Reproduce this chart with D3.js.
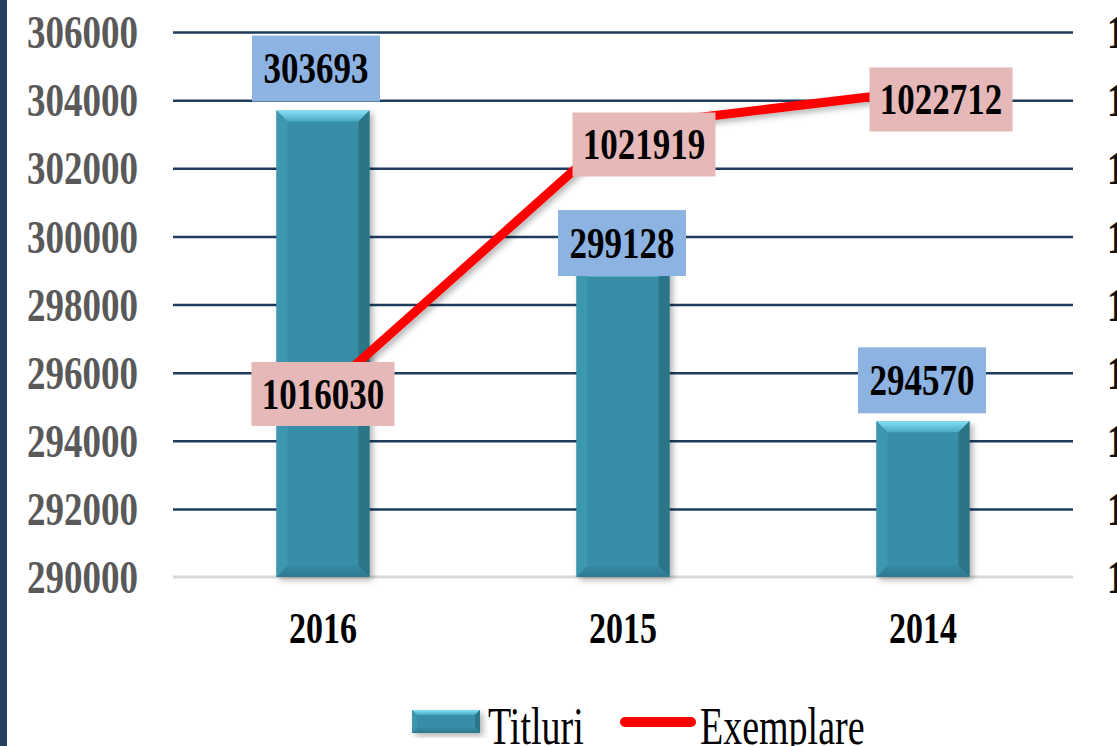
<!DOCTYPE html>
<html>
<head>
<meta charset="utf-8">
<script src="https://cdn.jsdelivr.net/npm/d3@7"></script>
<style>
  body { margin: 0; background: #fff; }
  svg { display: block; }
  text { font-family: "Liberation Serif", "Times New Roman", serif; }
</style>
</head>
<body>
<div id="chart"></div>
<script>
// data
const years = ['2016', '2015', '2014'];
const titluri = [303693, 299128, 294570];
const exemplare = [1016030, 1021919, 1022712];
const leftTicks = [290000, 292000, 294000, 296000, 298000, 300000, 302000, 304000, 306000];
const rightTicks = [1012000, 1013500, 1015000, 1016500, 1018000, 1019500, 1021000, 1022500, 1024000];
const legendNames = ['Titluri', 'Exemplare'];

// label placement nudges (layout only)
const barLabelShift = [[-7, -42], [-1, -23], [-1, -41]];
const lineLabelShift = [[0, 0], [21, 18], [18, 9]];

const W = 1117, H = 746;
const plot = { left: 173, right: 1073, top: 32, bottom: 577 };

const svg = d3.select('#chart').append('svg')
    .attr('width', W)
    .attr('height', H);

const defs = svg.append('defs');
let topGrad = defs.append('linearGradient').attr('id', 'bevelTop')
    .attr('x1', 0).attr('y1', 0).attr('x2', 0).attr('y2', 1);
topGrad.append('stop').attr('offset', '0%').attr('stop-color', '#86dff4');
topGrad.append('stop').attr('offset', '100%').attr('stop-color', '#4aa9c1');
let botGrad = defs.append('linearGradient').attr('id', 'bevelBot')
    .attr('x1', 0).attr('y1', 0).attr('x2', 0).attr('y2', 1);
botGrad.append('stop').attr('offset', '0%').attr('stop-color', '#3488a0');
botGrad.append('stop').attr('offset', '100%').attr('stop-color', '#2d7a90');
let shadow = defs.append('filter').attr('id', 'shadow')
    .attr('x', '-20%').attr('y', '-20%').attr('width', '140%').attr('height', '140%');
shadow.append('feDropShadow').attr('dx', 3).attr('dy', 3).attr('stdDeviation', 3)
    .attr('flood-color', '#000').attr('flood-opacity', 0.3);

// left frame stripe
svg.append('rect').attr('x', 0).attr('y', 0).attr('width', 7).attr('height', H)
    .attr('fill', '#243f60');

// scales
const x = d3.scaleBand()
    .domain(years)
    .range([plot.left, plot.right])
    .paddingInner(0.69)
    .paddingOuter(0.345);
const yLeft = d3.scaleLinear()
    .domain([290000, 306000])
    .range([plot.bottom, plot.top]);
const yRight = d3.scaleLinear()
    .domain([1012000, 1024000])
    .range([plot.bottom, plot.top]);

// gridlines
svg.append('g')
    .attr('transform', `translate(${plot.left},0)`)
    .call(d3.axisLeft(yLeft).tickValues(leftTicks.slice(1))
        .tickSize(-(plot.right - plot.left)).tickFormat(''))
    .call(g => g.select('.domain').remove())
    .call(g => g.selectAll('line').attr('stroke', '#1f3b5e').attr('stroke-width', 2.5));
svg.append('line')
    .attr('x1', plot.left).attr('x2', plot.right)
    .attr('y1', yLeft(290000)).attr('y2', yLeft(290000))
    .attr('stroke', '#d9d9d9').attr('stroke-width', 3);

// left axis labels
svg.append('g')
    .attr('transform', 'translate(138,0)')
    .call(d3.axisLeft(yLeft).tickValues(leftTicks).tickSize(0).tickPadding(0)
        .tickFormat(d3.format('d')))
    .call(g => g.select('.domain').remove())
    .call(g => g.selectAll('text')
        .attr('x', 0)
        .attr('dy', '0.33em')
        .attr('transform', 'scale(1,1.28)')
        .attr('font-size', 37)
        .attr('font-weight', 'bold')
        .attr('fill', '#595959'));

// right axis labels (cut off by the picture edge, as in the source)
svg.append('g')
    .attr('transform', 'translate(1107,0)')
    .call(d3.axisRight(yRight).tickValues(rightTicks).tickSize(0).tickPadding(0)
        .tickFormat(d3.format('d')))
    .call(g => g.select('.domain').remove())
    .call(g => g.selectAll('text')
        .attr('x', 0)
        .attr('dy', '0.33em')
        .attr('transform', 'scale(1,1.28)')
        .attr('font-size', 37)
        .attr('font-weight', 'bold')
        .attr('fill', '#111'));

// bottom axis labels
svg.append('g')
    .attr('transform', `translate(0,${plot.bottom})`)
    .call(d3.axisBottom(x).tickSize(0))
    .call(g => g.select('.domain').remove())
    .call(g => g.selectAll('text')
        .attr('y', 0)
        .attr('dy', 0)
        .attr('transform', 'translate(0,66) scale(1,1.3)')
        .attr('font-size', 34)
        .attr('font-weight', 'bold')
        .attr('fill', '#000'));

// bevelled bar
function bevelBar(g, x0, x1, y0, y1, b) {
    let grp = g.append('g').attr('filter', 'url(#shadow)');
    grp.append('rect').attr('x', x0).attr('y', y0)
        .attr('width', x1 - x0).attr('height', y1 - y0).attr('fill', '#378ea6');
    grp.append('polygon')
        .attr('points', [[x0, y0], [x1, y0], [x1 - b, y0 + b], [x0 + b, y0 + b]].join(' '))
        .attr('fill', 'url(#bevelTop)');
    grp.append('polygon')
        .attr('points', [[x0, y0], [x0 + b, y0 + b], [x0 + b, y1 - b], [x0, y1]].join(' '))
        .attr('fill', '#3d97af');
    grp.append('polygon')
        .attr('points', [[x1, y0], [x1 - b, y0 + b], [x1 - b, y1 - b], [x1, y1]].join(' '))
        .attr('fill', '#2c7488');
    grp.append('polygon')
        .attr('points', [[x0, y1], [x0 + b, y1 - b], [x1 - b, y1 - b], [x1, y1]].join(' '))
        .attr('fill', 'url(#bevelBot)');
}

let barGroup = svg.append('g').attr('id', 'bars');
years.forEach((yr, i) => {
    bevelBar(barGroup, x(yr), x(yr) + x.bandwidth(), yLeft(titluri[i]), yLeft(290000), 11);
});

// Exemplare line
const line = d3.line()
    .x((d, i) => x(years[i]) + x.bandwidth() / 2)
    .y(d => yRight(d));
svg.append('path')
    .datum(exemplare)
    .attr('d', line)
    .attr('fill', 'none')
    .attr('stroke', '#ff0000')
    .attr('stroke-width', 9)
    .attr('stroke-linecap', 'round')
    .attr('stroke-linejoin', 'round')
    .attr('filter', 'url(#shadow)');

// value boxes
function valueBox(cx, cy, w, h, fill, txt) {
    let g = svg.append('g').attr('transform', `translate(${cx},${cy})`);
    g.append('rect')
        .attr('x', -w / 2).attr('y', -h / 2)
        .attr('width', w).attr('height', h)
        .attr('fill', fill);
    g.append('text')
        .attr('text-anchor', 'middle')
        .attr('dy', '0.34em')
        .attr('transform', 'scale(1,1.25)')
        .attr('font-size', 35)
        .attr('font-weight', 'bold')
        .attr('fill', '#000')
        .text(txt);
}

years.forEach((yr, i) => {
    let cx = x(yr) + x.bandwidth() / 2;
    valueBox(cx + barLabelShift[i][0], yLeft(titluri[i]) + barLabelShift[i][1],
        128, 66, '#8db3e2', titluri[i]);
});
years.forEach((yr, i) => {
    let cx = x(yr) + x.bandwidth() / 2;
    valueBox(cx + lineLabelShift[i][0], yRight(exemplare[i]) + lineLabelShift[i][1],
        143, 64, '#e6b9b8', exemplare[i]);
});

// legend
let legend = svg.append('g').attr('id', 'legend');
bevelBar(legend, 412, 480, 710, 733, 5);
legend.append('line')
    .attr('x1', 625).attr('x2', 691)
    .attr('y1', 722).attr('y2', 722)
    .attr('stroke', '#ff0000')
    .attr('stroke-width', 10)
    .attr('stroke-linecap', 'round');
[[488, legendNames[0]], [700, legendNames[1]]].forEach(([lx, name]) => {
    legend.append('text')
        .attr('transform', `translate(${lx},744) scale(1,1.38)`)
        .attr('font-size', 38)
        .attr('fill', '#000')
        .text(name);
});
</script>
</body>
</html>
